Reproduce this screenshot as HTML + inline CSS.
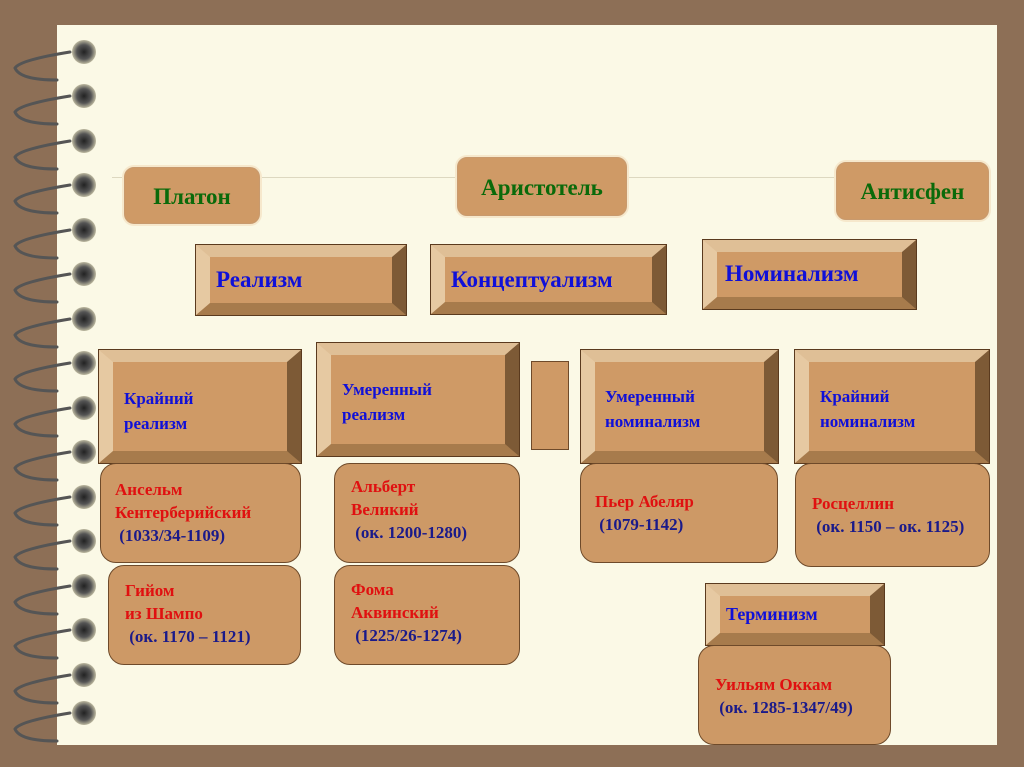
<!DOCTYPE html>
<html><head><meta charset="utf-8"><style>
body{margin:0;width:1024px;height:767px;background:#8d6f56;position:relative;overflow:hidden;font-family:"Liberation Serif",serif;font-weight:bold}
.page{position:absolute;left:57px;top:25px;width:940px;height:720px;background:#fbf9e6}
.b{position:absolute;box-sizing:border-box;background:#cf9a66;border-style:solid;border-width:12px 14px 12px 14px;border-color:#dfbf96 #7d5a36 #a77b4c #e6c9a2;outline:1.5px solid #5a3a1e}
.b span{position:absolute;color:#1010d8}
.r{position:absolute;box-sizing:border-box;background:#cd9966;border:1.5px solid #6e4a2a;border-radius:16px}
.g{position:absolute;box-sizing:border-box;background:#cf9a66;border:1.5px solid #c89a6e;border-radius:10px;box-shadow:0 0 0 2px #f6e8cc;color:#0a6a0a;font-size:23px;text-align:center}
.t{position:absolute;font-size:17px;line-height:23px}
.red{color:#e01010}.blu{color:#1a1a8a}
</style></head><body>
<div class="page"></div>
<svg width="120" height="767" style="position:absolute;left:0;top:0">
<g id="ring">
</g>
<script></script>
</svg>
<svg width="120" height="767" style="position:absolute;left:0;top:0">
<defs><radialGradient id="h" cx="0.5" cy="0.5" r="0.5"><stop offset="0" stop-color="#222"/><stop offset="0.6" stop-color="#555"/><stop offset="1" stop-color="#bdb9a0"/></radialGradient></defs>
<g fill="none" stroke-linecap="round">
<!-- rings -->
<g id="rs">
</g></g>
</svg>
<svg width="120" height="767" style="position:absolute;left:0;top:0">
<g fill="none" stroke-linecap="round">
<path d="M70 52 Q20 60 15 68 Q20 80 57 80" stroke="#555" stroke-width="3"/><circle cx="84" cy="52" r="12" fill="url(#h)"/>
<path d="M70 96 Q20 104 15 112 Q20 124 57 124" stroke="#555" stroke-width="3"/><circle cx="84" cy="96" r="12" fill="url(#h)"/>
<path d="M70 141 Q20 149 15 157 Q20 169 57 169" stroke="#555" stroke-width="3"/><circle cx="84" cy="141" r="12" fill="url(#h)"/>
<path d="M70 185 Q20 193 15 201 Q20 213 57 213" stroke="#555" stroke-width="3"/><circle cx="84" cy="185" r="12" fill="url(#h)"/>
<path d="M70 230 Q20 238 15 246 Q20 258 57 258" stroke="#555" stroke-width="3"/><circle cx="84" cy="230" r="12" fill="url(#h)"/>
<path d="M70 274 Q20 282 15 290 Q20 302 57 302" stroke="#555" stroke-width="3"/><circle cx="84" cy="274" r="12" fill="url(#h)"/>
<path d="M70 319 Q20 327 15 335 Q20 347 57 347" stroke="#555" stroke-width="3"/><circle cx="84" cy="319" r="12" fill="url(#h)"/>
<path d="M70 363 Q20 371 15 379 Q20 391 57 391" stroke="#555" stroke-width="3"/><circle cx="84" cy="363" r="12" fill="url(#h)"/>
<path d="M70 408 Q20 416 15 424 Q20 436 57 436" stroke="#555" stroke-width="3"/><circle cx="84" cy="408" r="12" fill="url(#h)"/>
<path d="M70 452 Q20 460 15 468 Q20 480 57 480" stroke="#555" stroke-width="3"/><circle cx="84" cy="452" r="12" fill="url(#h)"/>
<path d="M70 497 Q20 505 15 513 Q20 525 57 525" stroke="#555" stroke-width="3"/><circle cx="84" cy="497" r="12" fill="url(#h)"/>
<path d="M70 541 Q20 549 15 557 Q20 569 57 569" stroke="#555" stroke-width="3"/><circle cx="84" cy="541" r="12" fill="url(#h)"/>
<path d="M70 586 Q20 594 15 602 Q20 614 57 614" stroke="#555" stroke-width="3"/><circle cx="84" cy="586" r="12" fill="url(#h)"/>
<path d="M70 630 Q20 638 15 646 Q20 658 57 658" stroke="#555" stroke-width="3"/><circle cx="84" cy="630" r="12" fill="url(#h)"/>
<path d="M70 675 Q20 683 15 691 Q20 703 57 703" stroke="#555" stroke-width="3"/><circle cx="84" cy="675" r="12" fill="url(#h)"/>
<path d="M70 713 Q20 721 15 729 Q20 741 57 741" stroke="#555" stroke-width="3"/><circle cx="84" cy="713" r="12" fill="url(#h)"/>
</g></svg>
<div style="position:absolute;left:112px;top:177px;width:878px;height:1px;background:#ddd8c0"></div>

<div class="g" style="left:124px;top:167px;width:136px;height:57px;line-height:57px">Платон</div>
<div class="g" style="left:457px;top:157px;width:170px;height:59px;line-height:59px">Аристотель</div>
<div class="g" style="left:836px;top:162px;width:153px;height:58px;line-height:58px">Антисфен</div>

<div class="b" style="left:196px;top:245px;width:210px;height:70px"><span style="left:6px;top:10px;font-size:23px">Реализм</span></div>
<div class="b" style="left:431px;top:245px;width:235px;height:69px"><span style="left:6px;top:10px;font-size:23px">Концептуализм</span></div>
<div class="b" style="left:703px;top:240px;width:213px;height:69px"><span style="left:8px;top:9px;font-size:23px">Номинализм</span></div>

<div class="b" style="left:99px;top:350px;width:202px;height:113px"><span style="left:11px;top:24px;font-size:17px;line-height:25px">Крайний<br>реализм</span></div>
<div class="b" style="left:317px;top:343px;width:202px;height:113px"><span style="left:11px;top:22px;font-size:17px;line-height:25px">Умеренный<br>реализм</span></div>
<div style="position:absolute;left:531px;top:361px;width:38px;height:89px;box-sizing:border-box;background:#cf9a66;border:1.5px solid #6e4a2a"></div>
<div class="b" style="left:581px;top:350px;width:197px;height:113px"><span style="left:10px;top:22px;font-size:17px;line-height:25px">Умеренный<br>номинализм</span></div>
<div class="b" style="left:795px;top:350px;width:194px;height:113px"><span style="left:11px;top:22px;font-size:17px;line-height:25px">Крайний<br>номинализм</span></div>

<div class="r" style="left:100px;top:463px;width:201px;height:100px"><div class="t" style="left:14px;top:14px"><span class="red">Ансельм<br>Кентерберийский</span><br><span class="blu">&nbsp;(1033/34-1109)</span></div></div>
<div class="r" style="left:108px;top:565px;width:193px;height:100px"><div class="t" style="left:16px;top:13px"><span class="red">Гийом<br>из Шампо</span><br><span class="blu">&nbsp;(ок. 1170 – 1121)</span></div></div>
<div class="r" style="left:334px;top:463px;width:186px;height:100px"><div class="t" style="left:16px;top:11px"><span class="red">Альберт<br>Великий</span><br><span class="blu">&nbsp;(ок. 1200-1280)</span></div></div>
<div class="r" style="left:334px;top:565px;width:186px;height:100px"><div class="t" style="left:16px;top:12px"><span class="red">Фома<br>Аквинский</span><br><span class="blu">&nbsp;(1225/26-1274)</span></div></div>
<div class="r" style="left:580px;top:463px;width:198px;height:100px"><div class="t" style="left:14px;top:26px"><span class="red">Пьер Абеляр</span><br><span class="blu">&nbsp;(1079-1142)</span></div></div>
<div class="r" style="left:795px;top:463px;width:195px;height:104px"><div class="t" style="left:16px;top:28px"><span class="red">Росцеллин</span><br><span class="blu">&nbsp;(ок. 1150 – ок. 1125)</span></div></div>

<div class="b" style="left:706px;top:584px;width:178px;height:61px"><span style="left:6px;top:8px;font-size:18px">Терминизм</span></div>
<div class="r" style="left:698px;top:645px;width:193px;height:100px"><div class="t" style="left:16px;top:27px"><span class="red">Уильям Оккам</span><br><span class="blu">&nbsp;(ок. 1285-1347/49)</span></div></div>
</body></html>
